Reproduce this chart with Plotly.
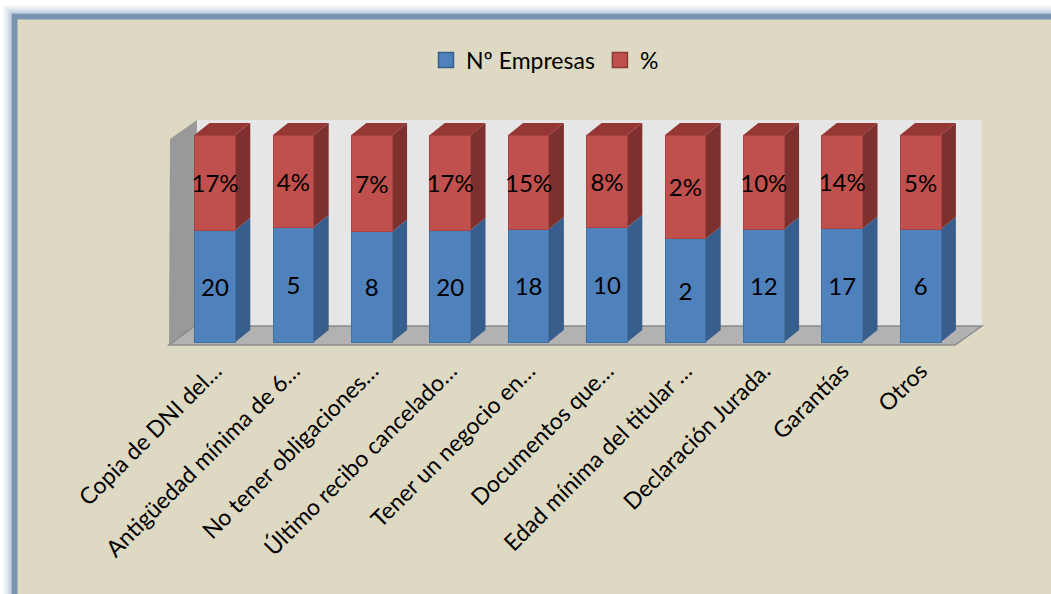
import plotly.graph_objects as go

# Requisitos solicitados por las empresas
categorias = [
    "Copia de DNI del…",
    "Antigüedad mínima de 6…",
    "No tener obligaciones…",
    "Último recibo cancelado…",
    "Tener un negocio en…",
    "Documentos que…",
    "Edad mínima del titular …",
    "Declaración Jurada.",
    "Garantías",
    "Otros",
]
empresas = [20, 5, 8, 20, 18, 10, 2, 12, 17, 6]
porcentaje = [17, 4, 7, 17, 15, 8, 2, 10, 14, 5]
series = ["Nº Empresas", "%"]

# Canvas and plot-area geometry (pixels)
W, H = 1051, 594
PL, PR, PT, PB = 166, 990, 110, 352
XR = [-0.625, 9.885]
YR = [-0.0483, 1.1208]

BLUE, BLUE_SIDE = "#4F81BD", "#375E8C"
RED, RED_SIDE, RED_TOP = "#C0504D", "#7E302E", "#953735"
BG = "#DDD9C3"
FRAME = "#7A93B3"
FONT = "Lato"

BAR_W = 0.52          # front face width (x units)
DX, DY = 0.19, 0.058  # pseudo-3D depth offsets (data units)


def pxx(p):
    return (p - PL) / (PR - PL)


def pxy(p):
    return (PB - p) / (PB - PT)


idx = list(range(len(categorias)))

fig = go.Figure()
fig.add_trace(go.Bar(
    x=idx, y=empresas, name=series[0], width=BAR_W, showlegend=False,
    marker=dict(color=BLUE, line=dict(color="#41719F", width=1)),
    text=[str(v) for v in empresas], textposition="inside",
    insidetextanchor="middle", textangle=0, constraintext="none",
    textfont=dict(family=FONT, size=24, color="black"),
    hoverinfo="skip",
))
fig.add_trace(go.Bar(
    x=idx, y=porcentaje, name=series[1], width=BAR_W, showlegend=False,
    marker=dict(color=RED, line=dict(color="#A9433F", width=1)),
    text=[f"{v}%" for v in porcentaje], textposition="inside",
    insidetextanchor="middle", textangle=0, constraintext="none",
    textfont=dict(family=FONT, size=24, color="black"),
    hoverinfo="skip",
))

# Legend keys drawn as square markers
for name, col, edge in [(series[0], BLUE, "#385D8A"), (series[1], RED, "#8C3836")]:
    fig.add_trace(go.Scatter(
        x=[None], y=[None], mode="markers", name=name,
        marker=dict(symbol="square", size=15, color=col, line=dict(color=edge, width=1.5)),
        hoverinfo="skip",
    ))

shapes = []

# Outer frame with soft glow
for off, a in [(10, 0.10), (8, 0.18), (6, 0.30), (4, 0.45)]:
    shapes.append(dict(
        type="rect", xref="paper", yref="paper", layer="below",
        x0=pxx(14.5 - off), y0=pxy(16.5 - off), x1=pxx(W + 40), y1=pxy(H + 40),
        line=dict(color=f"rgba(122,147,179,{a})", width=2), fillcolor="rgba(0,0,0,0)",
    ))
shapes.append(dict(
    type="rect", xref="paper", yref="paper", layer="below",
    x0=pxx(14.5), y0=pxy(16.5), x1=pxx(W + 40), y1=pxy(H + 40),
    line=dict(color=FRAME, width=6), fillcolor=BG,
))

# Walls and floor
shapes.append(dict(  # back wall
    type="rect", xref="x", yref="y", layer="below",
    x0=-0.23, x1=9.78, y0=0.072, y1=1.072,
    line=dict(width=0), fillcolor="#E6E6E6",
))
shapes.append(dict(  # side wall
    type="path", xref="x", yref="y", layer="below",
    path="M-0.587,-0.0145 L-0.574,0.981 L-0.23,1.072 L-0.255,0.072 Z",
    line=dict(width=0), fillcolor="#999999",
))
shapes.append(dict(  # floor
    type="path", xref="x", yref="y", layer="below",
    path="M-0.587,-0.0145 L9.44,-0.0145 L9.78,0.077 L-0.26,0.077 Z",
    line=dict(color="#8C8C8C", width=1.5), fillcolor="#B2B2B2",
))

# Side and top faces of each stacked bar
for i, (e, p) in enumerate(zip(empresas, porcentaje)):
    f = e / (e + p)
    xl, xr = i - BAR_W / 2, i + BAR_W / 2
    for y0, y1, col in [(0.0, f, BLUE_SIDE), (f, 1.0, RED_SIDE)]:
        shapes.append(dict(
            type="path", xref="x", yref="y", layer="below",
            path=f"M{xr},{y0} L{xr + DX},{y0 + DY} L{xr + DX},{y1 + DY} L{xr},{y1} Z",
            line=dict(width=0), fillcolor=col,
        ))
    shapes.append(dict(
        type="path", xref="x", yref="y", layer="below",
        path=f"M{xl},1 L{xl + DX},{1 + DY} L{xr + DX},{1 + DY} L{xr},1 Z",
        line=dict(width=0), fillcolor=RED_TOP,
    ))

fig.update_layout(
    width=W, height=H, autosize=False,
    margin=dict(l=PL, r=W - PR, t=PT, b=H - PB),
    paper_bgcolor="white", plot_bgcolor="rgba(0,0,0,0)",
    barmode="stack", barnorm="fraction",
    font=dict(family=FONT, color="black"),
    shapes=shapes,
    showlegend=True,
    legend=dict(
        orientation="h", x=pxx(545), y=pxy(60), xanchor="center", yanchor="middle",
        font=dict(family=FONT, size=23, color="black"),
        bgcolor="rgba(0,0,0,0)", traceorder="normal", itemwidth=30,
    ),
    xaxis=dict(
        range=XR, tickvals=idx, ticktext=categorias, tickangle=-45,
        showgrid=False, zeroline=False, showline=False, ticks="",
        tickfont=dict(family=FONT, size=23, color="black"),
    ),
    yaxis=dict(range=YR, visible=False, fixedrange=True),
)

fig.write_html("out.html")
